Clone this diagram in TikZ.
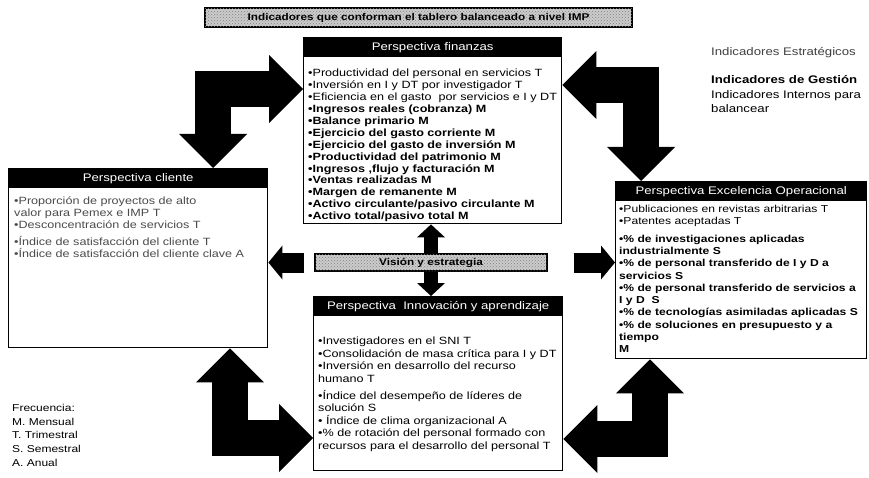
\documentclass[tikz,border=0pt]{standalone}
\usepackage{fontspec}
\setmainfont{Liberation Sans}
\newfontfamily\widefont{Liberation Sans}[FakeStretch=1.2]
\usetikzlibrary{arrows.meta,positioning,calc,patterns}
\newcommand\listfont{\widefont\fontsize{10.5}{11.9}\selectfont}
\newcommand\headfont{\widefont\fontsize{11}{13}\selectfont}
\newcommand\legfont{\widefont\fontsize{11}{14}\selectfont}
\newcommand\freqfont{\widefont\fontsize{10}{13.7}\selectfont}
\tikzset{
  panel/.style={draw, line width=1.4pt, fill=white, anchor=north west, inner sep=0pt},
  panelhead/.style={fill=black, text=white, anchor=north, inner sep=0pt,
    minimum height=20pt, font=\headfont},
  itemlist/.style={anchor=north west, align=left, inner sep=0pt, font=\listfont},
  bannerbox/.style={draw, line width=1.4pt, fill=gray!40,
    postaction={pattern=crosshatch dots, pattern color=black!50}, inner sep=0pt,
    font=\widefont\bfseries\fontsize{9.8}{12}\selectfont},
  legendtext/.style={anchor=north west, align=left, inner sep=0pt},
  blockarr/.style={line width=36pt,
    {Triangle[length=34pt, width=68pt, line width=0pt]}-{Triangle[length=34pt, width=68pt, line width=0pt]}},
  midarr/.style={line width=14pt, -{Triangle[length=13pt, width=28pt, line width=0pt]}},
  sidearr/.style={line width=20pt, -{Triangle[length=14pt, width=34pt, line width=0pt]}}
}

\begin{document}
\begin{tikzpicture}[x=1pt, y=-1pt]
  \useasboundingbox[fill=white] (0,0) rectangle (869,478);

  \node[bannerbox, minimum width=427pt, minimum height=19pt] (banner) at (418.5,17.5)
    {Indicadores que conforman el tablero balanceado a nivel IMP};

  \node[panel, minimum width=258pt, minimum height=186pt] (finance) at (303,37) {};
  \node[panelhead, minimum width=258pt] (finhead) at (finance.north) {Perspectiva finanzas};
  \node[itemlist] (finlist) at ([shift={(5,32)}]finance.north west)
    {•Productividad del personal en servicios T\\
     •Inversión en I y DT por investigador T\\
     •Eficiencia en el gasto\ \ por servicios e I y DT\\
     \textbf{•Ingresos reales (cobranza) M}\\
     \textbf{•Balance primario M}\\
     \textbf{•Ejercicio del gasto corriente M}\\
     \textbf{•Ejercicio del gasto de inversión M}\\
     \textbf{•Productividad del patrimonio M}\\
     \textbf{•Ingresos ,flujo y facturación M}\\
     \textbf{•Ventas realizadas M}\\
     \textbf{•Margen de remanente M}\\
     \textbf{•Activo circulante/pasivo circulante M}\\
     \textbf{•Activo total/pasivo total M}};

  \node[panel, minimum width=259pt, minimum height=179pt] (client) at (8,168) {};
  \node[panelhead, minimum width=259pt] (clihead) at (client.north) {Perspectiva cliente};
  \node[itemlist, text=black!70] (clilist) at ([shift={(6,29)}]client.north west)
    {•Proporción de proyectos de alto\\
     valor para Pemex e IMP T\\
     •Desconcentración de servicios T\\[5pt]
     •Índice de satisfacción del cliente T\\
     •Índice de satisfacción del cliente clave A};

  \node[panel, minimum width=251pt, minimum height=177pt] (excel) at (615,181) {};
  \node[panelhead, minimum width=251pt] (exchead) at (excel.north) {Perspectiva Excelencia Operacional};
  \node[itemlist, font=\widefont\fontsize{10.1}{12.3}\selectfont] (exclist) at ([shift={(4,24)}]excel.north west)
    {•Publicaciones en revistas arbitrarias T\\
     •Patentes aceptadas T\\[5pt]
     \textbf{•\% de investigaciones aplicadas}\\
     \textbf{industrialmente S}\\
     \textbf{•\% de personal transferido de I y D a}\\
     \textbf{servicios S}\\
     \textbf{•\% de personal transferido de servicios a}\\
     \textbf{I y D\ \ S}\\
     \textbf{•\% de tecnologías asimiladas aplicadas S}\\
     \textbf{•\% de soluciones en presupuesto y a}\\
     \textbf{tiempo}\\
     \textbf{M}};

  \node[panel, minimum width=249pt, minimum height=174pt] (inno) at (313,296) {};
  \node[panelhead, minimum width=249pt] (innohead) at (inno.north) {Perspectiva\ \ Innovación y aprendizaje};
  \node[itemlist, font=\widefont\fontsize{10.5}{12.4}\selectfont] (innolist) at ([shift={(5,41)}]inno.north west)
    {•Investigadores en el SNI T\\
     •Consolidación de masa crítica para I y DT\\
     •Inversión en desarrollo del recurso\\
     humano T\\[5pt]
     •Índice del desempeño de líderes de\\
     solución S\\
     • Índice de clima organizacional A\\
     •\% de rotación del personal formado con\\
     recursos para el desarrollo del personal T};

  \node[bannerbox, minimum width=232pt, minimum height=17pt] (vision) at (431,262.5) {Visión y estrategia};

  \node[legendtext, font=\legfont, text=black!75] (legstrat) at (711,47) {Indicadores Estratégicos};
  \node[legendtext, font=\legfont\bfseries] (leggest) at (711,75) {Indicadores de Gestión};
  \node[legendtext, font=\legfont] (legint) at (711,90) {Indicadores Internos para\\balancear};

  \node[legendtext, font=\freqfont] (freq) at (12,404)
    {Frecuencia:\\M. Mensual\\T. Trimestral\\S. Semestral\\A. Anual};

  \coordinate (tlbend) at (213,89);
  \coordinate (trbend) at (641,85);
  \coordinate (blbend) at (230,438);
  \coordinate (brbend) at (650,439);

  \draw[blockarr] (client.north -| tlbend) |- (finance.west |- tlbend);
  \draw[blockarr] (finance.east |- trbend) -| (excel.north -| trbend);
  \draw[blockarr] (client.south -| blbend) |- (inno.west |- blbend);
  \draw[blockarr] (excel.south -| brbend) |- (inno.east |- brbend);

  \draw[midarr] (vision.north) -- (vision.north |- finance.south);
  \draw[midarr] (vision.south) -- (vision.south |- inno.north);
  \draw[sidearr] ([xshift=-10pt]vision.west) -- (vision.west -| client.east);
  \draw[sidearr] ([xshift=26pt]vision.east) -- (vision.east -| excel.west);
\end{tikzpicture}
\end{document}
